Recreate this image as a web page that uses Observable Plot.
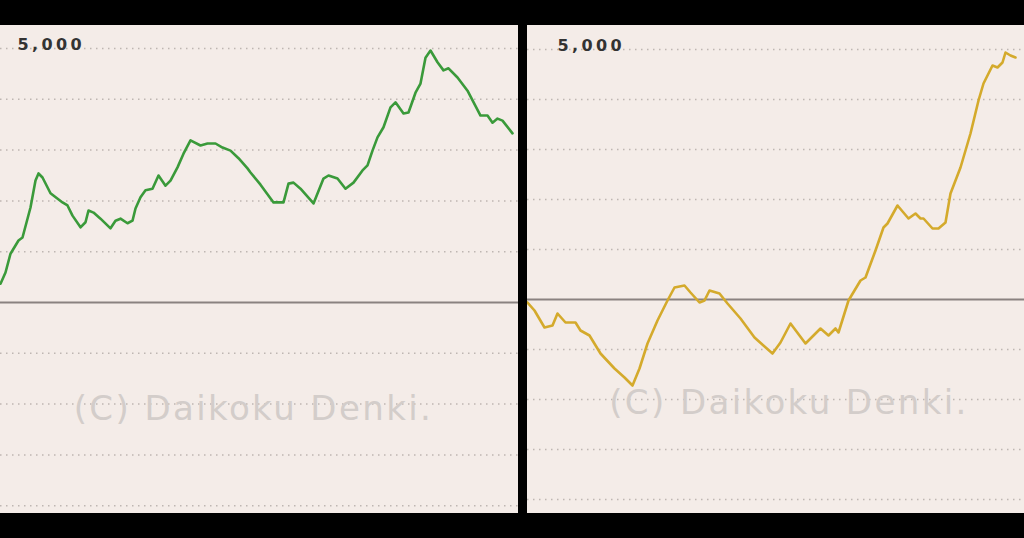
<!DOCTYPE html>
<html>
<head>
<meta charset="utf-8">
<script src="https://cdn.jsdelivr.net/npm/d3@7"></script>
<script src="https://cdn.jsdelivr.net/npm/@observablehq/plot@0.6"></script>
<style>
  html, body { margin: 0; padding: 0; background: #000; width: 1024px; height: 538px; overflow: hidden; }
  #left { position: absolute; left: 0; top: 25px; }
  #right { position: absolute; left: 527px; top: 25px; }
  g[font-size="34"] text { letter-spacing: 2.4px; }
  g[font-size="16"] text { letter-spacing: 3.4px; }
</style>
</head>
<body>
<div id="left"></div>
<div id="right"></div>
<script>
// Left machine: games played vs. cumulative medal difference
const leftGames = [0,80,160,288,352,480,560,608,672,800,992,1072,1152,1280,1360,1408,1488,1600,1760,1840,1920,2032,2112,2160,2240,2320,2432,2528,2640,2720,2832,2928,3040,3200,3312,3440,3552,3680,3808,3952,4000,4160,4368,4528,4608,4688,4800,5008,5168,5248,5392,5520,5648,5792,5872,5952,6032,6128,6240,6320,6448,6528,6640,6720,6800,6880,6992,7088,7168,7312,7472,7680,7792,7872,7952,8032,8192];
const leftDiff  = [370,590,960,1220,1280,1870,2400,2540,2460,2150,1970,1910,1710,1480,1580,1810,1770,1650,1460,1610,1650,1560,1610,1850,2070,2210,2240,2500,2300,2400,2660,2930,3190,3090,3130,3130,3050,2990,2840,2640,2560,2320,1970,1970,2340,2360,2240,1950,2440,2500,2440,2240,2360,2600,2700,2990,3250,3450,3840,3940,3720,3740,4130,4310,4820,4960,4730,4570,4610,4430,4170,3680,3680,3540,3620,3580,3330];

// Right machine
const rightGames = [0,112,272,400,480,608,768,848,992,1168,1392,1552,1680,1792,1920,2080,2240,2352,2512,2608,2752,2832,2912,3072,3200,3408,3632,3920,4048,4208,4448,4688,4816,4928,4976,5136,5328,5408,5568,5696,5760,5920,6096,6208,6288,6336,6480,6576,6688,6768,6928,7088,7216,7296,7440,7520,7600,7648,7728,7808];
const rightDiff  = [-60,-220,-560,-520,-280,-460,-460,-620,-720,-1080,-1380,-1560,-1720,-1380,-880,-420,-20,240,280,140,-60,-20,180,120,-80,-380,-760,-1080,-860,-480,-880,-580,-720,-580,-660,-20,380,440,980,1440,1520,1880,1620,1720,1620,1620,1420,1420,1540,2120,2640,3320,3980,4320,4680,4640,4740,4940,4880,4840];

const gridTicks = [-4000,-3000,-2000,-1000,1000,2000,3000,4000,5000];
const labelTicks = [5000];
const watermark = "(C) Daikoku Denki.";

const BG = "#f4ece8";

function panel({games, diff, color, width, height, xMax, yDomain, labelDx, wmDx, wmY}) {
  const data = games.map((g, i) => ({g, v: diff[i]}));
  return Plot.plot({
    width, height,
    margin: 0,
    style: {background: BG, overflow: "hidden"},
    x: {domain: [0, xMax], axis: null},
    y: {domain: yDomain, axis: null},
    marks: [
      Plot.ruleY(gridTicks, {stroke: "#b8b0ac", strokeWidth: 1.5, strokeDasharray: "1.5,4.5", strokeOpacity: 0.9}),
      Plot.text([watermark], {x: xMax / 2, y: wmY, text: d => d, dx: wmDx,
        fill: "#d3cdca", fontSize: 34, fontFamily: "DejaVu Sans"}),
      Plot.ruleY([0], {stroke: "#8a8280", strokeWidth: 2}),
      Plot.line(data, {x: "g", y: "v", stroke: color, strokeWidth: 2.6, curve: "linear"}),
      Plot.text(labelTicks, {x: 0, y: d => d, text: d => d3.format(",")(d), dx: labelDx, dy: -4,
        textAnchor: "start", fill: "#333333", fontSize: 16, fontFamily: "DejaVu Sans", fontWeight: "bold"})
    ]
  });
}

document.getElementById("left").append(panel({
  games: leftGames, diff: leftDiff, color: "#3a9a3a",
  width: 518, height: 488, xMax: 8288, yDomain: [-4154, 5453],
  labelDx: 17, wmDx: -6, wmY: -2100
}));

document.getElementById("right").append(panel({
  games: rightGames, diff: rightDiff, color: "#d4aa2c",
  width: 497, height: 488, xMax: 7952, yDomain: [-4280, 5480],
  labelDx: 30, wmDx: 13, wmY: -2080
}));
</script>
</body>
</html>
